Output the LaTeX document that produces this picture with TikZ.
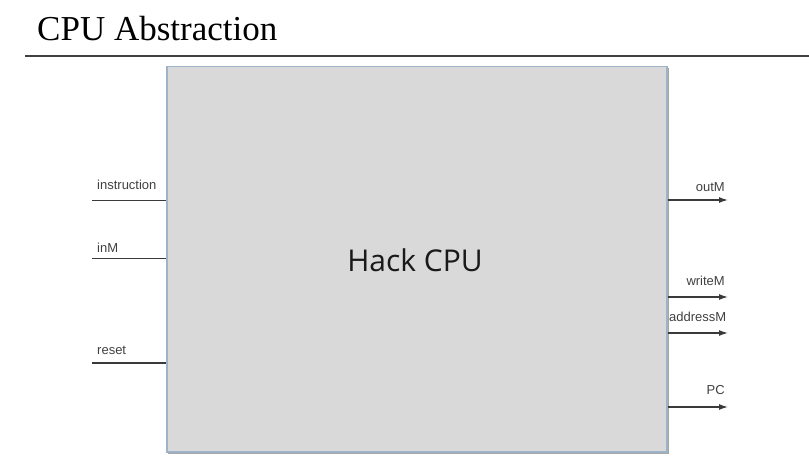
\documentclass[tikz,border=0pt]{standalone}
\usepackage{fontspec}
\setmainfont{Liberation Serif}
\newfontfamily\labelfont{Liberation Sans}
\newfontfamily\cpufont{Open Sans}
\usetikzlibrary{arrows.meta}
\definecolor{boxfill}{HTML}{D9D9D9}
\definecolor{boxedge}{HTML}{9FB3C8}
\definecolor{wire}{HTML}{3A3A3A}
\definecolor{labelgray}{HTML}{404040}
\tikzset{
  pin/.style={draw=wire, line width=1.3pt},
  outpin/.style={pin, -{Latex[length=9pt,width=6pt]}},
  pinlabel/.style={font=\labelfont\fontsize{13}{13}\selectfont, text=labelgray, inner sep=0pt},
}
\begin{document}
\begin{tikzpicture}[x=1pt,y=-1pt]
\useasboundingbox (0,0) rectangle (809,470);
% title
\node[anchor=base west, inner sep=0pt, font=\fontsize{35}{35}\selectfont] (title) at (37,41) {CPU Abstraction};
\coordinate (ruleL) at (25,56);
\coordinate (ruleR) at (809,56);
\draw[line width=1.8pt, black!75] (ruleL) -- (ruleR);
% shadow and box
\fill[black!35] (168,68) rectangle (669,454);
\node[draw=boxedge, fill=boxfill, line width=1.5pt, minimum width=500pt, minimum height=385pt, inner sep=0pt, anchor=north west] (cpu) at (166,66) {};
\node[font=\cpufont\fontsize{30}{30}\selectfont, text=black!90, anchor=base] (cpulabel) at (415,272) {Hack CPU};
% inputs
\coordinate (iin) at (92,200.5);
\coordinate (min) at (92,258.5);
\coordinate (rin) at (92,363);
\draw[pin] (iin) -- (iin -| cpu.west);
\draw[pin] (min) -- (min -| cpu.west);
\draw[pin] (rin) -- (rin -| cpu.west);
\node[pinlabel, anchor=base west] (linstr) at (97,190) {instruction};
\node[pinlabel, anchor=base west] (linm) at (97,253) {inM};
\node[pinlabel, anchor=base west] (lreset) at (97,355) {reset};
% outputs
\coordinate (oout) at (728,200);
\coordinate (wout) at (728,297);
\coordinate (aout) at (728,333);
\coordinate (pout) at (728,407);
\draw[outpin] (oout -| cpu.east) -- (oout);
\draw[outpin] (wout -| cpu.east) -- (wout);
\draw[outpin] (aout -| cpu.east) -- (aout);
\draw[outpin] (pout -| cpu.east) -- (pout);
\node[pinlabel, anchor=base east] (loutm) at (725,192) {outM};
\node[pinlabel, anchor=base east] (lwrite) at (725,286) {writeM};
\node[pinlabel, anchor=base west] (laddr) at (669,322) {addressM};
\node[pinlabel, anchor=base east] (lpc) at (725,395) {PC};
\end{tikzpicture}
\end{document}
